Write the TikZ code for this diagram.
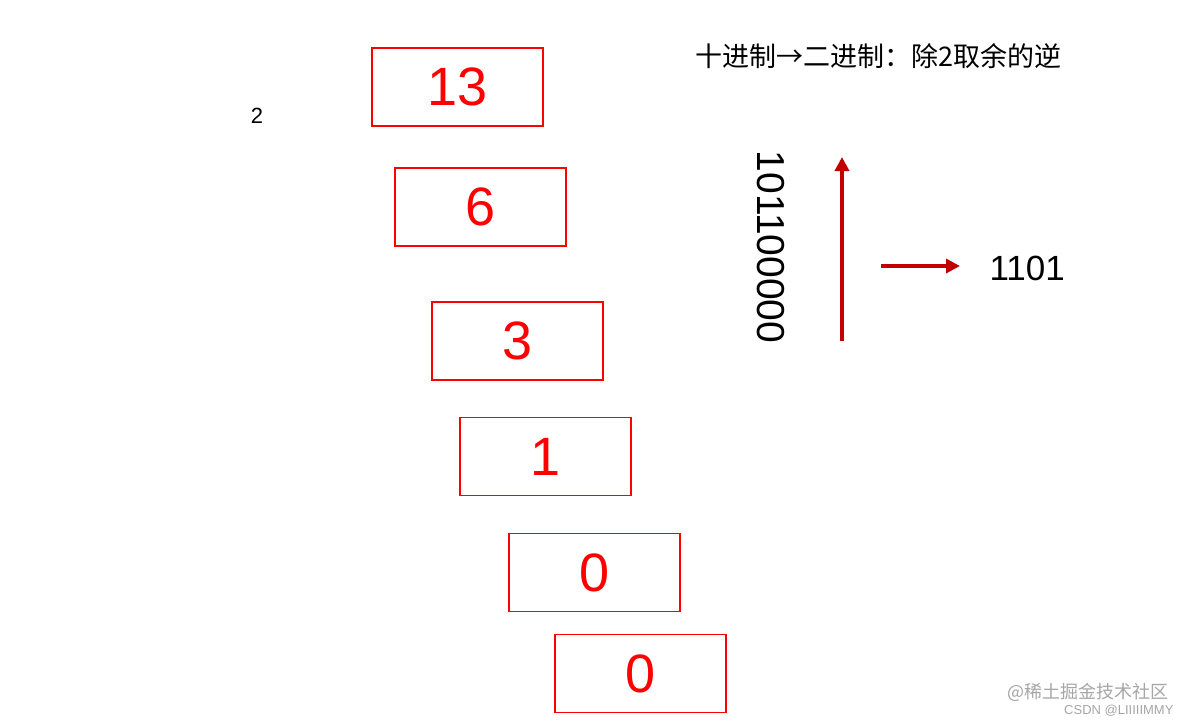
\documentclass[tikz,border=0pt]{standalone}
\usepackage{fontspec}
\setmainfont{Liberation Sans}
\newfontfamily\cjk{Noto Sans CJK SC}
\usetikzlibrary{arrows.meta}
\definecolor{boxred}{RGB}{255,0,0}
\definecolor{arrred}{RGB}{192,0,0}
\tikzset{numbox/.style={draw=boxred,line width=1.2pt,minimum width=171pt,minimum height=78pt,text=boxred,font=\fontsize{54}{60}\selectfont,inner sep=0pt},
 arr/.style={draw=arrred,line width=3.6pt,-{Triangle[length=14pt,width=14pt]}}}
\begin{document}
\begin{tikzpicture}[x=1pt,y=-1pt]
\useasboundingbox[fill=white] (0,0) rectangle (1191,725);
\node[numbox] (n13) at (457.5,87) {13};
\node[numbox] (n6) at (480.5,207) {6};
\node[numbox] (n3) at (517.5,341) {3};
\node[numbox] (n1) at (545.5,456.5) {1};
\node[numbox] (n0a) at (594.5,572.5) {0};
\node[numbox] (n0b) at (640.5,673.5) {0};
\node[font=\fontsize{22}{26}\selectfont] (two) at (257,116) {2};
\node[font=\cjk\fontsize{27}{30}\selectfont] (title) at (878,56) {十进制→二进制：除2取余的逆};
\node[font=\fontsize{39}{44}\selectfont,rotate=-90] (bin) at (771,247) {101100000};
\coordinate (ua) at (842,341); \coordinate (ub) at (842,157);
\draw[arr] (ua) -- (ub);
\coordinate (ra) at (881,266);
\node[font=\fontsize{35}{40}\selectfont,anchor=west] (res) at (986,268) {1101};
\draw[arr] (ra) -- (960,266);
\node[font=\cjk\fontsize{18}{20}\selectfont,text=gray!70,anchor=east] (wm1) at (1172,692) {@稀土掘金技术社区};
\node[font=\fontsize{13}{15}\selectfont,text=gray!70,anchor=east] (wm2) at (1177,711) {CSDN @LIIIIIMMY};
\end{tikzpicture}
\end{document}
